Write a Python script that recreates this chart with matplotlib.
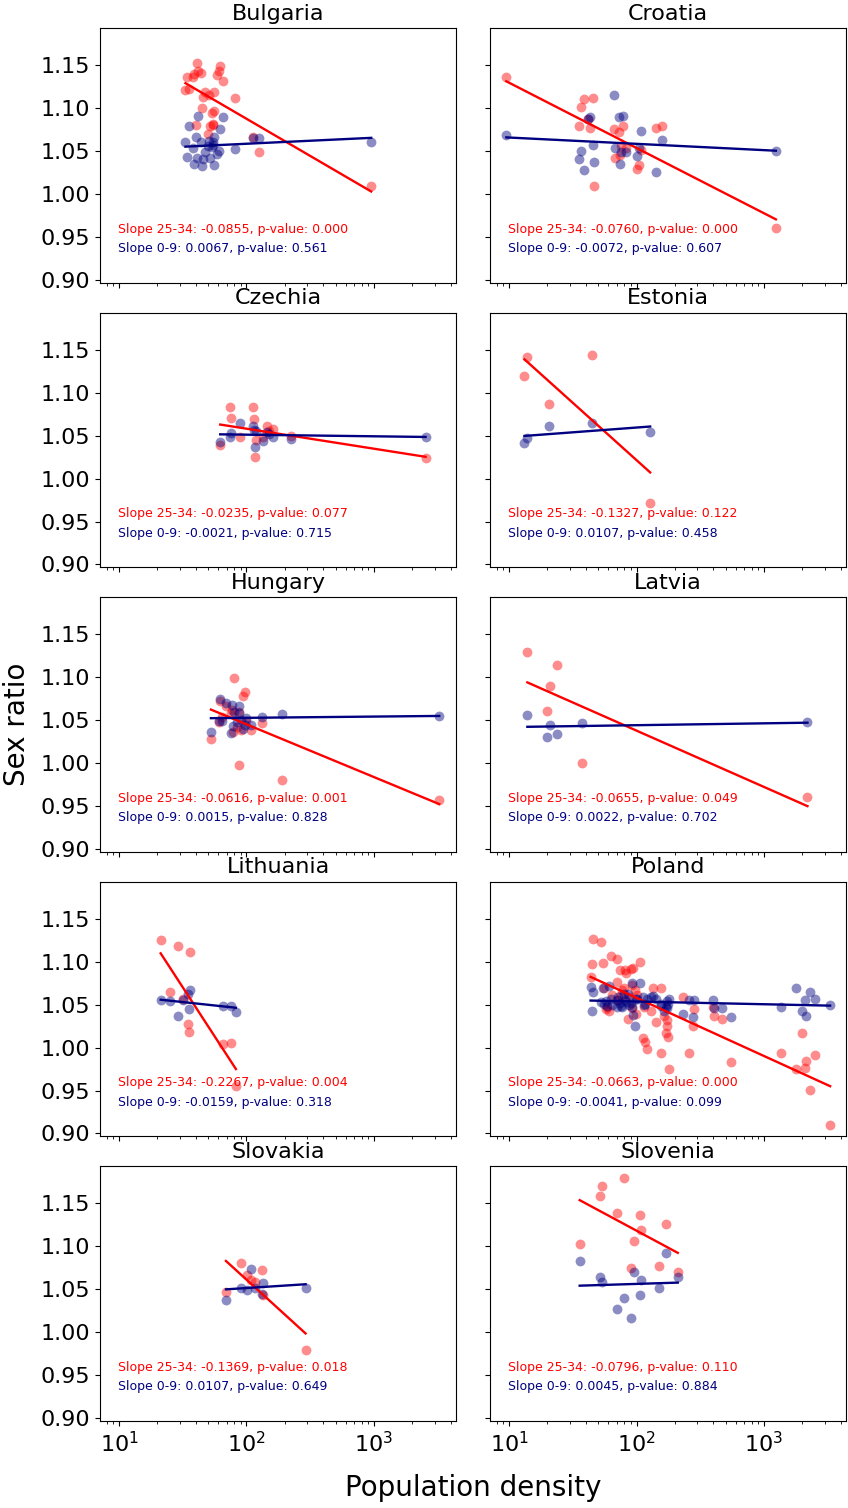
import numpy as np
import matplotlib
matplotlib.use('Agg')
import matplotlib.pyplot as plt

# Datos: densidad, ratio 25-34 (rojo), ratio 0-9 (azul)
countries = ['Bulgaria', 'Croatia', 'Czechia', 'Estonia', 'Hungary',
             'Latvia', 'Lithuania', 'Poland', 'Slovakia', 'Slovenia']

bg_dens = [953, 125.6, 112.7, 81.1, 65.0, 61.9, 61.1, 58.3, 55.9, 55.2, 54.9, 54.2, 53.3, 51.7,
           51.1, 49.6, 47.6, 45.3, 44.8, 44.0, 41.8, 40.6, 40.2, 39.0, 38.3, 35.1, 34.2, 33.2]
bg_2534 = [1.010, 1.049, 1.066, 1.112, 1.132, 1.149, 1.143, 1.139, 1.119, 1.097, 1.082, 1.081, 1.095, 1.079,
           1.115, 1.070, 1.119, 1.113, 1.100, 1.141, 1.143, 1.153, 1.080, 1.140, 1.136, 1.123, 1.137, 1.121]
bg_09 = [1.061, 1.065, 1.065, 1.053, 1.090, 1.076, 1.050, 1.047, 1.034, 1.067, 1.061, 1.057, 1.055, 1.042,
         1.062, 1.056, 1.049, 1.041, 1.033, 1.061, 1.091, 1.042, 1.066, 1.035, 1.054, 1.079, 1.043, 1.061]

hr_dens = [9.5, 1242, 66.1, 42.9, 41.8, 72.8, 78.7, 108.9, 157.1, 141.0, 45.8, 36.9, 67.7, 73.6,
           82.0, 104.3, 100.0, 35.3, 46.6, 38.6, 75.0]
hr_2534 = [1.136, 0.961, 1.076, 1.077, 1.088, 1.072, 1.079, 1.052, 1.079, 1.077, 1.112, 1.101, 1.042, 1.046,
           1.054, 1.034, 1.029, 1.079, 1.010, 1.111, 1.056]
hr_09 = [1.069, 1.050, 1.115, 1.090, 1.087, 1.090, 1.091, 1.074, 1.063, 1.026, 1.057, 1.050, 1.054, 1.035,
         1.049, 1.054, 1.045, 1.041, 1.037, 1.028, 1.049]

cz_dens = [2547, 62.2, 74.5, 75.5, 89.3, 112.7, 114.8, 116.2, 118.3, 135.8, 145.9, 150.4, 162.6, 222.0]
cz_2534 = [1.024, 1.039, 1.084, 1.071, 1.049, 1.084, 1.070, 1.025, 1.045, 1.049, 1.061, 1.055, 1.058, 1.050]
cz_09 = [1.049, 1.043, 1.048, 1.053, 1.065, 1.061, 1.057, 1.037, 1.055, 1.044, 1.054, 1.052, 1.049, 1.046]

ee_dens = [13.2, 13.9, 20.6, 44.4, 128.0]
ee_2534 = [1.119, 1.142, 1.087, 1.144, 0.972]
ee_09 = [1.041, 1.047, 1.061, 1.065, 1.054]

hu_dens = [3260, 188.8, 133.4, 108.1, 98.8, 97.1, 94.2, 90.3, 87.7, 86.7, 84.0, 80.1, 77.8, 76.8,
           75.4, 69.0, 64.2, 62.3, 60.4, 52.6]
hu_2534 = [0.957, 0.980, 1.047, 1.039, 1.049, 1.083, 1.078, 1.039, 0.998, 1.060, 1.042, 1.099, 1.036, 1.062,
           1.058, 1.066, 1.054, 1.072, 1.048, 1.028]
hu_09 = [1.055, 1.057, 1.054, 1.045, 1.053, 1.044, 1.040, 1.050, 1.066, 1.059, 1.048, 1.060, 1.043, 1.068,
         1.035, 1.070, 1.049, 1.075, 1.049, 1.036]

lv_dens = [13.9, 20.0, 20.9, 23.8, 37.1, 2198]
lv_2534 = [1.130, 1.061, 1.090, 1.114, 1.000, 0.960]
lv_09 = [1.056, 1.031, 1.045, 1.034, 1.047, 1.048]

lt_dens = [21.2, 24.9, 29.1, 31.6, 35.0, 35.2, 36.3, 65.0, 75.5, 82.6]
lt_2534 = [1.125, 1.065, 1.119, 1.057, 1.028, 1.018, 1.111, 1.004, 1.005, 0.955]
lt_09 = [1.056, 1.054, 1.037, 1.056, 1.063, 1.045, 1.067, 1.049, 1.048, 1.041]

pl_dens = [43.6, 45.0, 45.8, 52.3, 54.8, 55.8, 57.2, 58.9, 60.7, 62.5, 63.7, 69.7, 70.6, 71.8, 74.0,
           75.0, 77.3, 79.6, 80.5, 82.0, 86.1, 87.1, 89.8, 91.4, 92.5, 93.6, 97.0, 98.2, 101.2, 107.4,
           112.1, 114.1, 117.5, 121.2, 130.3, 135.1, 141.0, 154.3, 157.0, 165.7, 171.8, 173.8, 174.9, 177.0, 180.3,
           232.1, 257.1, 276.2, 283.1, 396.3, 408.3, 468.8, 551.6,
           1358, 1781, 1985, 2108, 2147, 2308, 2509, 3310]
pl_2534 = [1.082, 1.097, 1.126, 1.123, 1.099, 1.070, 1.045, 1.047, 1.043, 1.107, 1.061, 1.103, 1.077, 1.055, 1.090,
           1.061, 1.067, 1.069, 1.091, 1.087, 1.033, 1.059, 1.092, 1.046, 1.073, 1.093, 1.067, 1.039, 1.061, 1.100,
           1.011, 1.047, 1.006, 0.998, 1.043, 1.070, 1.030, 0.994, 1.070, 1.037, 1.017, 1.032, 1.025, 1.012, 0.975,
           1.059, 0.994, 1.025, 1.045, 1.047, 1.037, 1.033, 0.983,
           0.994, 0.975, 1.017, 0.976, 0.985, 0.951, 0.992, 0.910]
pl_09 = [1.071, 1.043, 1.065, 1.053, 1.069, 1.051, 1.054, 1.048, 1.072, 1.057, 1.050, 1.055, 1.047, 1.059, 1.052,
         1.049, 1.047, 1.063, 1.055, 1.053, 1.063, 1.050, 1.052, 1.047, 1.075, 1.038, 1.025, 1.057, 1.057, 1.075,
         1.059, 1.050, 1.051, 1.057, 1.059, 1.060, 1.057, 1.051, 1.049, 1.043, 1.047, 1.054, 1.046, 1.051, 1.057,
         1.039, 1.055, 1.036, 1.055, 1.056, 1.046, 1.046, 1.036,
         1.047, 1.069, 1.043, 1.056, 1.037, 1.065, 1.057, 1.050]

sk_dens = [69.0, 90.3, 101.1, 108.7, 116.8, 132.5, 134.2, 291.0]
sk_2534 = [1.047, 1.080, 1.066, 1.061, 1.058, 1.072, 1.043, 0.979]
sk_09 = [1.038, 1.052, 1.049, 1.074, 1.051, 1.045, 1.057, 1.051]

si_dens = [35.8, 51.3, 53.8, 69.7, 79.6, 89.8, 95.3, 106.2, 109.4, 149.6, 170.7, 210.8]
si_2534 = [1.103, 1.159, 1.170, 1.139, 1.180, 1.075, 1.106, 1.137, 1.119, 1.077, 1.126, 1.070]
si_09 = [1.083, 1.064, 1.059, 1.027, 1.040, 1.017, 1.070, 1.043, 1.061, 1.052, 1.092, 1.064]

dens = [bg_dens, hr_dens, cz_dens, ee_dens, hu_dens, lv_dens, lt_dens, pl_dens, sk_dens, si_dens]
ratio_2534 = [bg_2534, hr_2534, cz_2534, ee_2534, hu_2534, lv_2534, lt_2534, pl_2534, sk_2534, si_2534]
ratio_09 = [bg_09, hr_09, cz_09, ee_09, hu_09, lv_09, lt_09, pl_09, sk_09, si_09]

# Textos de pendientes tal como aparecen
slope_2534 = ['-0.0855', '-0.0760', '-0.0235', '-0.1327', '-0.0616',
              '-0.0655', '-0.2267', '-0.0663', '-0.1369', '-0.0796']
pval_2534 = ['0.000', '0.000', '0.077', '0.122', '0.001', '0.049', '0.004', '0.000', '0.018', '0.110']
slope_09 = ['0.0067', '-0.0072', '-0.0021', '0.0107', '0.0015',
            '0.0022', '-0.0159', '-0.0041', '0.0107', '0.0045']
pval_09 = ['0.561', '0.607', '0.715', '0.458', '0.828', '0.702', '0.318', '0.099', '0.649', '0.884']

fig, axes = plt.subplots(5, 2, figsize=(8.48, 15.08), dpi=100, sharex=True, sharey=True)
fig.subplots_adjust(left=0.118, right=0.998, top=0.9814, bottom=0.0577, wspace=0.095, hspace=0.116)

for i, ax in enumerate(axes.flat):
    x = np.array(dens[i])
    r = np.array(ratio_2534[i])
    b = np.array(ratio_09[i])
    lx = np.log10(x)

    ax.scatter(x, r, color='red', alpha=0.45, s=50, linewidths=0)
    ax.scatter(x, b, color='navy', alpha=0.45, s=50, linewidths=0)

    xs = np.array([x.min(), x.max()])
    kr = np.polyfit(lx, r, 1)
    kb = np.polyfit(lx, b, 1)
    ax.plot(xs, np.polyval(kr, np.log10(xs)), color='red', lw=1.7)
    ax.plot(xs, np.polyval(kb, np.log10(xs)), color='navy', lw=1.7)

    ax.set_xscale('log')
    ax.set_title(countries[i], fontsize=16)
    ax.text(0.05, 0.21, f'Slope 25-34: {slope_2534[i]}, p-value: {pval_2534[i]}',
            transform=ax.transAxes, color='red', fontsize=9, va='center')
    ax.text(0.05, 0.135, f'Slope 0-9: {slope_09[i]}, p-value: {pval_09[i]}',
            transform=ax.transAxes, color='navy', fontsize=9, va='center')
    ax.tick_params(labelsize=16)

axes[0, 0].set_yticks([0.90, 0.95, 1.00, 1.05, 1.10, 1.15])
fig.text(0.02, 0.52, 'Sex ratio', rotation=90, fontsize=20, va='center', ha='center')
fig.text(0.558, 0.013, 'Population density', fontsize=20, ha='center', va='center')

plt.savefig('out.png', dpi=100)
